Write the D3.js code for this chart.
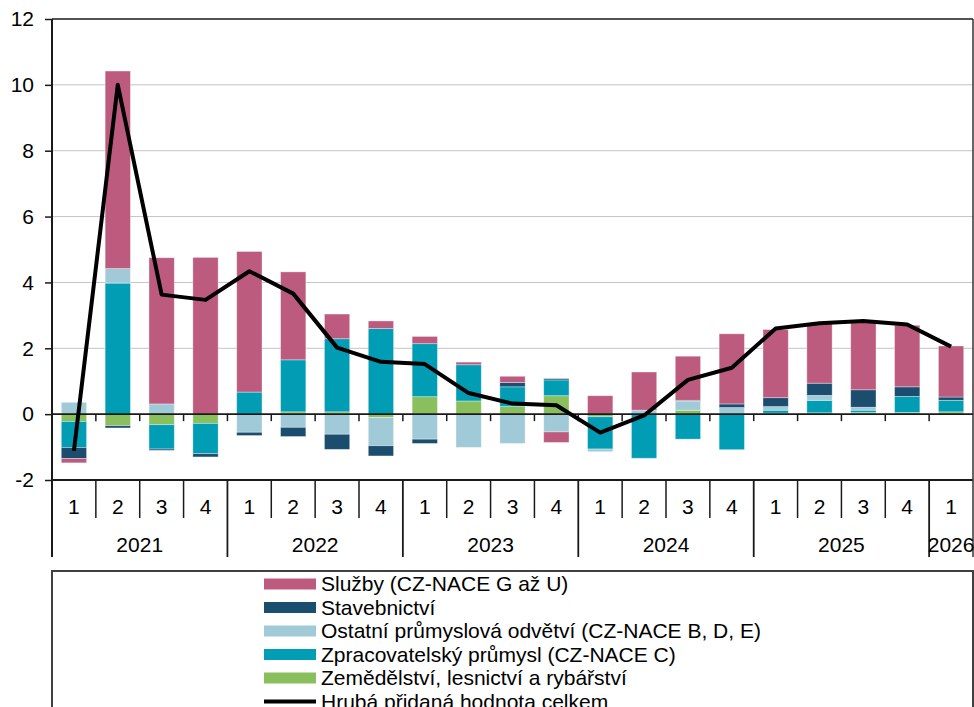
<!DOCTYPE html>
<html>
<head>
<meta charset="utf-8">
<script src="https://cdn.jsdelivr.net/npm/d3@7"></script>
<style>
  body { margin: 0; background: #fff; }
  svg { display: block; font-family: "Liberation Sans", Arial, sans-serif; }
</style>
</head>
<body>
<svg width="974" height="707"></svg>
<script>
const quarters = ["1","2","3","4","1","2","3","4","1","2","3","4","1","2","3","4","1","2","3","4","1"];
const years = ["2021", "2022", "2023", "2024", "2025", "2026"];

// series in stacking order (bottom first)
const zemedelstvi = [-0.22, -0.35, -0.32, -0.28, 0.0, 0.07, 0.07, -0.10, 0.53, 0.40, 0.23, 0.56, -0.08, 0.0, 0.12, 0.0, 0.03, 0.04, 0.05, 0.05, 0.07];
const zpracovatelsky = [-0.79, 3.98, -0.74, -0.92, 0.67, 1.58, 2.22, 2.60, 1.61, 1.10, 0.60, 0.48, -0.98, -1.34, -0.76, -1.08, 0.09, 0.38, 0.07, 0.49, 0.35];
const ostatni = [0.36, 0.44, 0.31, 0.0, -0.55, -0.40, -0.61, -0.86, -0.76, -1.01, -0.89, -0.54, -0.08, 0.12, 0.28, 0.20, 0.11, 0.15, 0.09, 0.0, 0.0];
const stavebnictvi = [-0.34, -0.07, -0.04, -0.10, -0.10, -0.28, -0.46, -0.31, -0.13, 0.0, 0.13, 0.04, 0.0, 0.0, 0.02, 0.11, 0.27, 0.37, 0.53, 0.29, 0.10];
const sluzby = [-0.13, 6.0, 4.44, 4.76, 4.27, 2.67, 0.75, 0.23, 0.22, 0.08, 0.19, -0.32, 0.56, 1.16, 1.34, 2.13, 2.07, 1.83, 2.08, 1.87, 1.55];
const hph = [-1.11, 10.0, 3.63, 3.47, 4.34, 3.66, 2.02, 1.59, 1.52, 0.64, 0.32, 0.27, -0.56, -0.04, 1.04, 1.41, 2.60, 2.76, 2.83, 2.72, 2.05];

const yTicks = [-2, 0, 2, 4, 6, 8, 10, 12];

const series = [
  { key: "zem", name: "Zemědělství, lesnictví a rybářství", values: zemedelstvi, color: "#8abf5e" },
  { key: "zpr", name: "Zpracovatelský průmysl (CZ-NACE C)", values: zpracovatelsky, color: "#009db5" },
  { key: "ost", name: "Ostatní průmyslová odvětví (CZ-NACE B, D, E)", values: ostatni, color: "#a1cad8" },
  { key: "stav", name: "Stavebnictví", values: stavebnictvi, color: "#1a4d6e" },
  { key: "slu", name: "Služby (CZ-NACE G až U)", values: sluzby, color: "#bc5b7e" }
];
const lineName = "Hrubá přidaná hodnota celkem";

const plotL = 52, plotR = 973, plotT = 19, plotB = 480;
const fontSize = 21;

const svg = d3.select("svg");

const rows = quarters.map((q, i) => {
  const r = { i };
  series.forEach((s) => (r[s.key] = s.values[i]));
  return r;
});

const x = d3.scaleBand()
  .domain(d3.range(quarters.length))
  .range([plotL, plotR])
  .paddingInner(0.423)
  .paddingOuter(0.2115);
const step = x.step();

const y = d3.scaleLinear().domain([-2, 12]).range([plotB, plotT]);

const stacked = d3.stack()
  .keys(series.map((s) => s.key))
  .offset(d3.stackOffsetDiverging)(rows);

// gridlines
svg.append("g")
  .selectAll("line")
  .data(yTicks.filter((t) => t > 0 && t < 12))
  .join("line")
  .attr("x1", plotL).attr("x2", plotR)
  .attr("y1", (d) => y(d)).attr("y2", (d) => y(d))
  .attr("stroke", "#c4c4c4")
  .attr("stroke-width", 1);

// bars
svg.append("g")
  .selectAll("g")
  .data(stacked)
  .join("g")
  .attr("fill", (d, i) => series[i].color)
  .selectAll("rect")
  .data((d) => d)
  .join("rect")
  .attr("x", (d) => x(d.data.i))
  .attr("width", x.bandwidth())
  .attr("y", (d) => y(Math.max(d[0], d[1])))
  .attr("height", (d) => Math.abs(y(d[0]) - y(d[1])))
  .attr("stroke", "rgba(255,255,255,0.45)")
  .attr("stroke-width", 0.8);

// frame lines
const frame = svg.append("g").attr("stroke", "#1a1a1a");
frame.append("line").attr("x1", plotL).attr("x2", plotR).attr("y1", y(12)).attr("y2", y(12)).attr("stroke-width", 1.5);
frame.append("line").attr("x1", plotL).attr("x2", plotR).attr("y1", y(-2)).attr("y2", y(-2)).attr("stroke-width", 2);
frame.append("line").attr("x1", plotR).attr("x2", plotR).attr("y1", y(12)).attr("y2", 557).attr("stroke", "#333").attr("stroke-width", 1.5);

// zero line with ticks at category boundaries
frame.append("line").attr("x1", plotL).attr("x2", plotR).attr("y1", y(0)).attr("y2", y(0)).attr("stroke-width", 1.8);
frame.selectAll(".zt")
  .data(d3.range(1, quarters.length))
  .join("line")
  .attr("x1", (i) => plotL + i * step).attr("x2", (i) => plotL + i * step)
  .attr("y1", y(0)).attr("y2", y(0) + 7)
  .attr("stroke-width", 1.5);

// y axis
const yAxis = svg.append("g")
  .attr("transform", `translate(${plotL},0)`)
  .call(d3.axisLeft(y).tickValues(yTicks).tickSize(7).tickPadding(11).tickFormat(d3.format("d")));
yAxis.select(".domain").attr("stroke", "#1a1a1a").attr("stroke-width", 2).attr("d", `M0,${plotT}V557`);
yAxis.selectAll(".tick line").attr("stroke", "#1a1a1a").attr("stroke-width", 1.5);
yAxis.selectAll("text")
  .attr("font-size", fontSize)
  .attr("font-family", "'Liberation Sans', Arial, sans-serif")
  .attr("fill", "#000")
  .text((d) => (d < 0 ? "-" + Math.abs(d) : d));

// line
svg.append("path")
  .datum(hph)
  .attr("fill", "none")
  .attr("stroke", "#000")
  .attr("stroke-width", 4)
  .attr("stroke-linejoin", "round")
  .attr("d", d3.line().x((d, i) => x(i) + x.bandwidth() / 2).y((d) => y(d)));

// category axis: quarters
const cat = svg.append("g");
cat.selectAll(".qsep")
  .data(d3.range(1, quarters.length).filter((i) => i % 4 !== 0))
  .join("line")
  .attr("x1", (i) => plotL + i * step).attr("x2", (i) => plotL + i * step)
  .attr("y1", plotB).attr("y2", 518)
  .attr("stroke", "#1a1a1a").attr("stroke-width", 1.5);
cat.selectAll(".ysep")
  .data(d3.range(4, quarters.length, 4))
  .join("line")
  .attr("x1", (i) => plotL + i * step).attr("x2", (i) => plotL + i * step)
  .attr("y1", plotB).attr("y2", 557)
  .attr("stroke", "#1a1a1a").attr("stroke-width", 1.8);
cat.selectAll(".ql")
  .data(quarters)
  .join("text")
  .attr("x", (d, i) => x(i) + x.bandwidth() / 2)
  .attr("y", 507)
  .attr("dy", "0.35em")
  .attr("text-anchor", "middle")
  .attr("font-size", fontSize)
  .text((d) => d);
cat.selectAll(".yl")
  .data(years)
  .join("text")
  .attr("x", (d, i) => {
    const start = i * 4;
    const end = Math.min(start + 4, quarters.length);
    return plotL + ((start + end) / 2) * step;
  })
  .attr("y", 545)
  .attr("dy", "0.35em")
  .attr("text-anchor", "middle")
  .attr("font-size", fontSize)
  .text((d) => d);

// legend
svg.append("rect")
  .attr("x", 52).attr("y", 571)
  .attr("width", 921).attr("height", 160)
  .attr("fill", "none")
  .attr("stroke", "#404040")
  .attr("stroke-width", 2);

const legendItems = series.slice().reverse().map((s) => ({ name: s.name, color: s.color, line: false }));
legendItems.push({ name: lineName, color: "#000", line: true });

const leg = svg.append("g")
  .selectAll("g")
  .data(legendItems)
  .join("g")
  .attr("transform", (d, i) => `translate(264,${584 + i * 23.5})`);
leg.filter((d) => !d.line).append("rect")
  .attr("x", 0).attr("y", -5.5)
  .attr("width", 52).attr("height", 11)
  .attr("fill", (d) => d.color);
leg.filter((d) => d.line).append("line")
  .attr("x1", 0).attr("x2", 52)
  .attr("stroke", "#000").attr("stroke-width", 4);
leg.append("text")
  .attr("x", 57)
  .attr("dy", "0.35em")
  .attr("font-size", fontSize)
  .text((d) => d.name);
</script>
</body>
</html>
